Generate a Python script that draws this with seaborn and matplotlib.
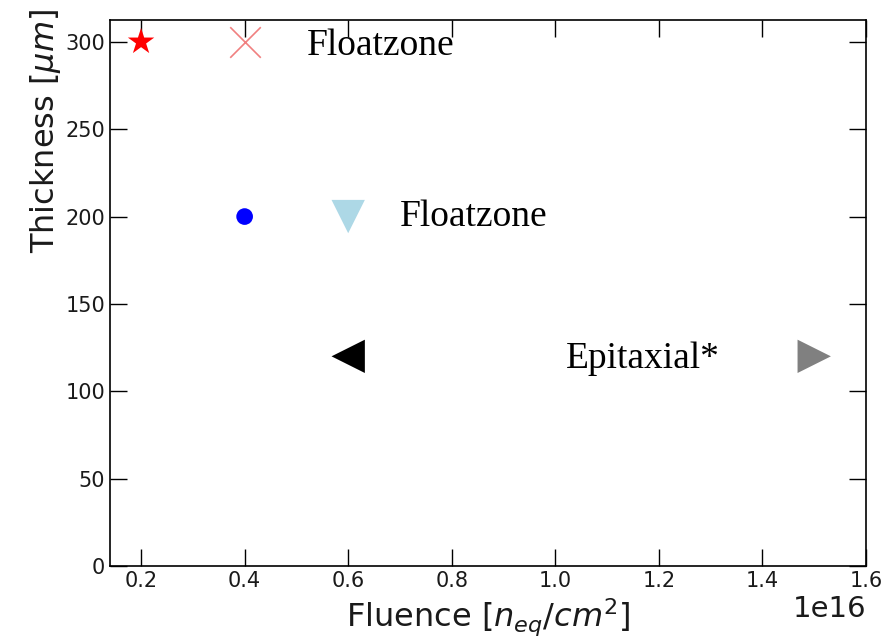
import matplotlib
matplotlib.use("Agg")
import matplotlib.pyplot as plt
import seaborn as sns
import pandas as pd

# Sensor samples: fluence [n_eq/cm^2] vs thickness [um]
fluence = [0.2e16, 0.4e16, 0.4e16, 0.6e16, 0.6e16, 1.5e16]
thickness = [300, 300, 200, 200, 120, 120]
markers = ["*", "x", "o", "v", "<", ">"]
colors = ["red", "lightcoral", "blue", "lightblue", "black", "gray"]
sizes = [20, 22, 12, 24, 24, 24]

labels = ["Floatzone", "Floatzone", "Epitaxial*"]
label_x = [0.52e16, 0.70e16, 1.02e16]
label_y = [300, 202, 121]

sns.set_style("ticks")
plt.rcParams["font.family"] = ["DejaVu Sans"]
plt.rcParams["text.color"] = "black"
plt.rcParams["axes.labelcolor"] = "#1a1a1a"
plt.rcParams["xtick.color"] = "black"
plt.rcParams["ytick.color"] = "black"

fig = plt.figure(figsize=(8.89, 6.39), dpi=100)
ax = fig.add_axes([110 / 889, 1 - 566 / 639, (866 - 110) / 889, (566 - 20) / 639])

df = pd.DataFrame({"fluence": fluence, "thickness": thickness})
for i in range(len(df)):
    is_x = markers[i] == "x"
    sns.scatterplot(data=df.iloc[[i]], x="fluence", y="thickness", marker=markers[i],
                    color=colors[i], s=sizes[i] ** 2, linewidth=1.2 if is_x else 0,
                    edgecolor=colors[i] if is_x else "none", ax=ax)

for t, x, y in zip(labels, label_x, label_y):
    ax.text(x, y, t, fontsize=27, family="Liberation Serif", color="black",
            va="center_baseline", ha="left")

ax.set_xlim(0.14e16, 1.6e16)
ax.set_ylim(0, 312.5)
ax.set_xticks([0.2e16, 0.4e16, 0.6e16, 0.8e16, 1.0e16, 1.2e16, 1.4e16, 1.6e16])
ax.set_yticks([0, 50, 100, 150, 200, 250, 300])

ax.set_xlabel(r"Fluence [$n_{eq}/cm^2$]", fontsize=23)
ax.set_ylabel(r"Thickness [$\mu m$]", fontsize=23)
ax.yaxis.set_label_coords(-0.062, 0.797)

ax.tick_params(direction="in", length=12, width=1, top=True, right=True,
               labelsize=15, labelcolor="#1a1a1a")
ax.xaxis.get_offset_text().set_fontsize(21)
for sp in ax.spines.values():
    sp.set_linewidth(1.2)
    sp.set_color("black")

fig.savefig("out.png", dpi=100)
